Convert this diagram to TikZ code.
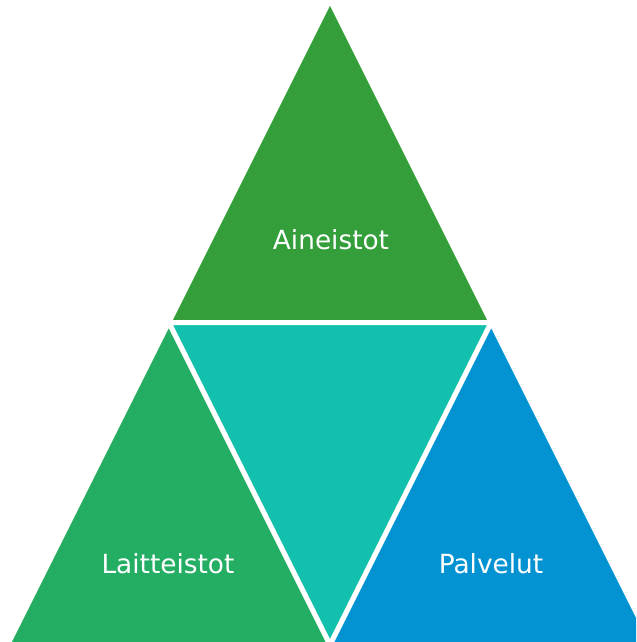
\documentclass[tikz,border=0pt]{standalone}
\usepackage{fontspec}
\setmainfont{DejaVu Sans}

\definecolor{topgreen}{HTML}{349F3A}
\definecolor{midteal}{HTML}{11C1AE}
\definecolor{leftgreen}{HTML}{24AE64}
\definecolor{rightblue}{HTML}{0393D3}

\begin{document}
\begin{tikzpicture}[x=0.02cm, y=-0.02cm,
  piece/.style={draw=white, line width=0.1cm, line join=round},
  label/.style={text=white, font=\fontsize{15}{17}\selectfont, anchor=base}]

\useasboundingbox (0,0) rectangle (636,642);
\clip (0,0) rectangle (636,642);

\coordinate (top) at (330, 0);
\coordinate (left) at (7.5, 645);
\coordinate (right) at (652.5, 645);
\coordinate (midL) at (168.75, 322.5);
\coordinate (midR) at (491.25, 322.5);
\coordinate (midB) at (330, 645);

\filldraw[piece, fill=topgreen] (top) -- (midL) -- (midR) -- cycle;
\filldraw[piece, fill=midteal] (midL) -- (midR) -- (midB) -- cycle;
\filldraw[piece, fill=leftgreen] (midL) -- (left) -- (midB) -- cycle;
\filldraw[piece, fill=rightblue] (midR) -- (midB) -- (right) -- cycle;

\node[label] (aineistot) at (331, 249) {Aineistot};
\node[label] (laitteistot) at (168, 573) {Laitteistot};
\node[label] (palvelut) at (491, 573) {Palvelut};

\end{tikzpicture}
\end{document}
